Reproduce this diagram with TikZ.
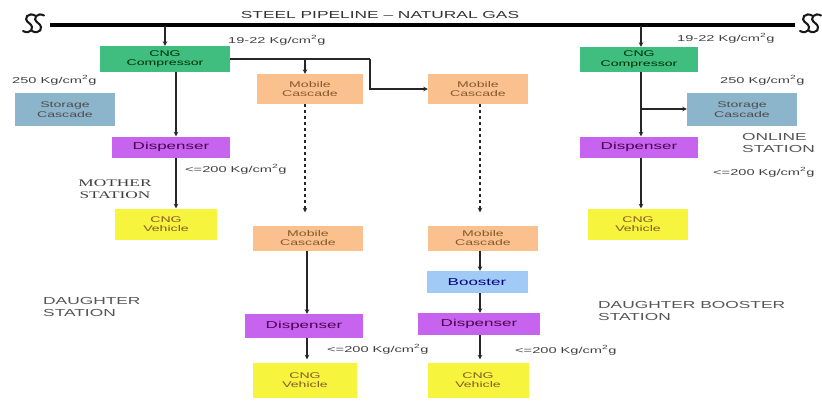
\documentclass[tikz,border=0pt]{standalone}
\usepackage{fontspec}
\setmainfont{Liberation Sans}
\newfontfamily\wsans[FakeStretch=1.7]{Liberation Sans}
\newfontfamily\wserif[FakeStretch=1.7]{Liberation Serif}
\usetikzlibrary{arrows.meta}
\definecolor{cgreen}{RGB}{64,190,128}
\definecolor{cstore}{RGB}{140,180,202}
\definecolor{cmobile}{RGB}{250,192,142}
\definecolor{cdisp}{RGB}{198,100,240}
\definecolor{cveh}{RGB}{246,244,60}
\definecolor{cboost}{RGB}{162,202,246}
\definecolor{lblgray}{RGB}{85,85,85}
\tikzset{
  box/.style={rectangle, inner sep=0pt, align=center, font=\wsans\fontsize{8.3}{9.5}\selectfont},
  bigbox/.style={box, font=\wsans\fontsize{10}{11}\selectfont},
  arr/.style={draw=black!85, line width=1.2pt, -{Stealth[length=4.5pt,width=4.5pt]}},
  con/.style={draw=black!85, line width=1.2pt},
  pipe/.style={draw=black, line width=3.5pt},
  lbl/.style={inner sep=0pt, anchor=west, text=black!75, font=\wsans\fontsize{8.6}{10}\selectfont},
  stn/.style={inner sep=0pt, anchor=west, align=left, text=lblgray, font=\wsans\fontsize{10.2}{12.5}\selectfont},
  brk/.style={draw=black!90, line width=2.1pt, line cap=round},
}
\begin{document}
\begin{tikzpicture}[x=1pt,y=-1pt]
\useasboundingbox (0,0) rectangle (822,400);
% pipeline
\coordinate (pL) at (50,25);
\coordinate (pR) at (795,25);
\draw[pipe] (pL) -- (pR);
\node[inner sep=0pt, text=black!80, font=\wsans\fontsize{10.2}{12}\selectfont] (title) at (380,15) {STEEL PIPELINE \textendash{} NATURAL GAS};
% break symbols
\foreach \cx in {29,38,806,815}{
  \draw[brk] (\cx+6,15.5) .. controls (\cx,12) and (\cx-7,18) .. (\cx,23) .. controls (\cx+7,28) and (\cx+1,35) .. (\cx-6,31);
}
% boxes
\node[box, fill=cgreen, text=black!70!green!60!black, minimum width=130pt, minimum height=26pt] (comp1) at (165,59) {CNG\\Compressor};
\node[box, fill=cstore, text=black!70, minimum width=100pt, minimum height=33pt] (stor1) at (65,109.5) {Storage\\Cascade};
\node[bigbox, fill=cdisp, text=violet!60!black, minimum width=118pt, minimum height=21pt] (disp1) at (171,147) {Dispenser};
\node[box, fill=cveh, text=brown!70!black, minimum width=102pt, minimum height=31pt] (veh1) at (166,224) {CNG\\Vehicle};
\node[box, fill=cmobile, text=brown!70!black, minimum width=106pt, minimum height=30pt] (mc1) at (310,89) {Mobile\\Cascade};
\node[box, fill=cmobile, text=brown!70!black, minimum width=100pt, minimum height=30pt] (mc2) at (478,89) {Mobile\\Cascade};
\node[box, fill=cmobile, text=brown!70!black, minimum width=110pt, minimum height=25pt] (mc3) at (308,238) {Mobile\\Cascade};
\node[box, fill=cmobile, text=brown!70!black, minimum width=110pt, minimum height=25pt] (mc4) at (483,238) {Mobile\\Cascade};
\node[bigbox, fill=cdisp, text=violet!60!black, minimum width=118pt, minimum height=24pt] (disp3) at (304,326) {Dispenser};
\node[box, fill=cveh, text=brown!70!black, minimum width=104pt, minimum height=35pt] (veh3) at (305,380) {CNG\\Vehicle};
\node[bigbox, fill=cboost, text=blue!50!black, minimum width=101pt, minimum height=22pt] (boost) at (477,282) {Booster};
\node[bigbox, fill=cdisp, text=violet!60!black, minimum width=122pt, minimum height=22pt] (disp4) at (479,324) {Dispenser};
\node[box, fill=cveh, text=brown!70!black, minimum width=101pt, minimum height=35pt] (veh4) at (478,380) {CNG\\Vehicle};
\node[box, fill=cgreen, text=black!70!green!60!black, minimum width=118pt, minimum height=25pt] (comp2) at (639,59.5) {CNG\\Compressor};
\node[box, fill=cstore, text=black!70, minimum width=110pt, minimum height=33pt] (stor2) at (742,109.5) {Storage\\Cascade};
\node[bigbox, fill=cdisp, text=violet!60!black, minimum width=118pt, minimum height=21pt] (disp2) at (639,147) {Dispenser};
\node[box, fill=cveh, text=brown!70!black, minimum width=100pt, minimum height=31pt] (veh2) at (638,224) {CNG\\Vehicle};
% guide coordinates
\coordinate (t1) at (165,26);
\coordinate (t2) at (641,26);
\coordinate (xa) at (176,0);
\coordinate (xb) at (305,0);
\coordinate (xc) at (307,0);
\coordinate (xd) at (480,0);
\coordinate (xe) at (641,0);
\coordinate (j1) at (370,59);
\coordinate (b1) at (305,59);
\coordinate (b2) at (641,109);
% connectors
\draw[arr] (t1) -- (comp1.north -| t1);
\draw[arr] (t2) -- (comp2.north -| t2);
\draw[con] (comp1.east) -- (j1);
\draw[arr] (j1) |- (mc2.west);
\draw[arr] (b1) -- (mc1.north -| b1);
\draw[arr] (comp1.south -| xa) -- (disp1.north -| xa);
\draw[arr] (disp1.south -| xa) -- (veh1.north -| xa);
\draw[arr, dashed, shorten >=13pt] (mc1.south -| xb) -- (mc3.north -| xb);
\draw[arr] (mc3.south -| xc) -- (disp3.north -| xc);
\draw[arr, shorten >=3pt] (disp3.south -| xc) -- (veh3.north -| xc);
\draw[arr, dashed, shorten >=13pt] (mc2.south -| xd) -- (mc4.north -| xd);
\draw[arr] (mc4.south -| xd) -- (boost.north -| xd);
\draw[arr] (boost.south -| xd) -- (disp4.north -| xd);
\draw[arr, shorten >=3pt] (disp4.south -| xd) -- (veh4.north -| xd);
\draw[arr] (comp2.south -| xe) -- (disp2.north -| xe);
\draw[arr] (b2) -- (stor2.west |- b2);
\draw[arr] (disp2.south -| xe) -- (veh2.north -| xe);
% labels
\node[lbl] (p1) at (228,40) {19-22 Kg/cm\textsuperscript{2}g};
\node[lbl] (p2) at (677,38) {19-22 Kg/cm\textsuperscript{2}g};
\node[lbl] (p3) at (12,80) {250 Kg/cm\textsuperscript{2}g};
\node[lbl] (p4) at (720,80) {250 Kg/cm\textsuperscript{2}g};
\node[lbl] (p5) at (185,169) {<=200 Kg/cm\textsuperscript{2}g};
\node[lbl] (p6) at (327,349) {<=200 Kg/cm\textsuperscript{2}g};
\node[lbl] (p7) at (515,350) {<=200 Kg/cm\textsuperscript{2}g};
\node[lbl] (p8) at (713,172) {<=200 Kg/cm\textsuperscript{2}g};
\node[inner sep=0pt, align=center, text=black!75, font=\wserif\fontsize{10.2}{12.5}\selectfont] (ms) at (115,189) {MOTHER\\STATION};
\node[stn] (ds) at (43,307) {DAUGHTER\\STATION};
\node[stn] (dbs) at (598,311) {DAUGHTER BOOSTER\\STATION};
\node[stn] (os) at (742,143) {ONLINE\\STATION};
\end{tikzpicture}
\end{document}
